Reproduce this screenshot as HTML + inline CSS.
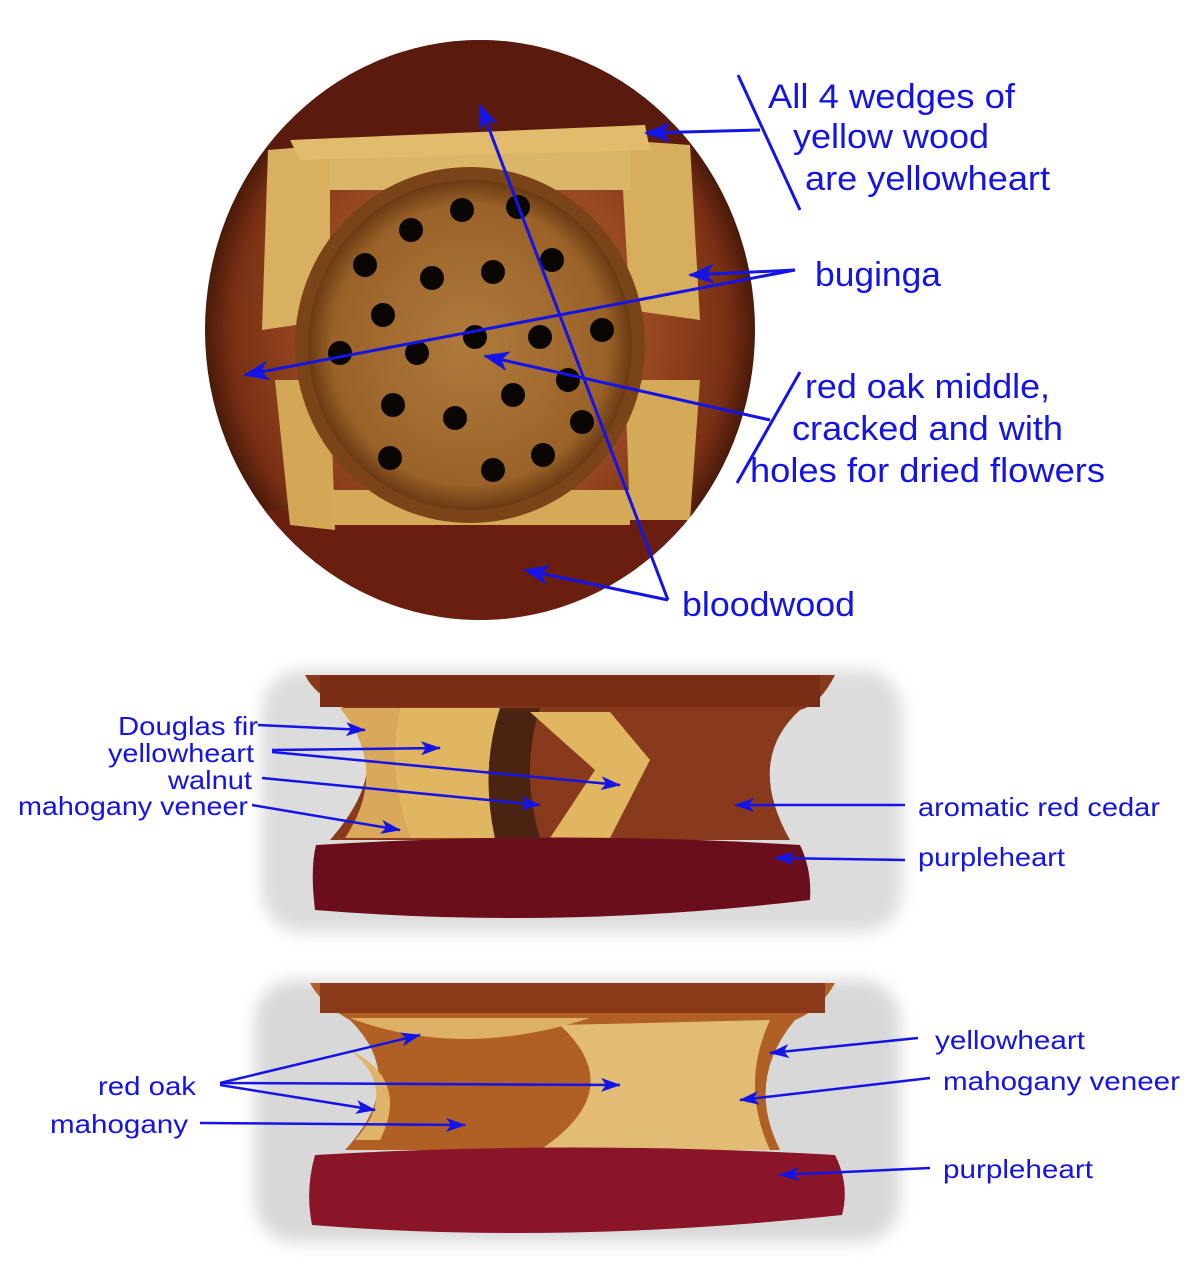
<!DOCTYPE html>
<html><head><meta charset="utf-8"><style>
html,body{margin:0;padding:0;background:#fff;}
svg{display:block;}
text{font-family:"Liberation Sans",Arial,sans-serif;fill:#1414e6;}
</style></head><body>
<svg width="1200" height="1277" viewBox="0 0 1200 1277" xmlns="http://www.w3.org/2000/svg">
<defs>
<radialGradient id="bowl" cx="50%" cy="50%" r="50%">
<stop offset="0.6" stop-color="#9a4a22"/><stop offset="0.9" stop-color="#7a3014"/><stop offset="1" stop-color="#4a1a0a"/>
</radialGradient>
<radialGradient id="oak" cx="50%" cy="50%" r="50%">
<stop offset="0" stop-color="#b07a3c"/><stop offset="0.85" stop-color="#9a6228"/><stop offset="1" stop-color="#6a3a14"/>
</radialGradient>
<clipPath id="bc"><ellipse cx="480" cy="330" rx="275" ry="290"/></clipPath>
<filter id="blur"><feGaussianBlur stdDeviation="8"/></filter>
<marker id="ah" markerWidth="26" markerHeight="20" refX="24" refY="10" orient="auto" markerUnits="userSpaceOnUse" viewBox="0 0 26 20">
<path d="M0,0 L26,10 L0,20 L7,10 z" fill="#1414e6"/></marker>
<marker id="ah2" markerWidth="20" markerHeight="14" refX="19" refY="7" orient="auto" markerUnits="userSpaceOnUse" viewBox="0 0 20 14">
<path d="M0,0 L20,7 L0,14 L5,7 z" fill="#1414e6"/></marker>
</defs>

<!-- BOWL -->
<ellipse cx="480" cy="330" rx="275" ry="290" fill="url(#bowl)"/>
<g clip-path="url(#bc)">
<rect x="200" y="30" width="560" height="120" fill="#5a1a0e"/>
<rect x="200" y="510" width="560" height="120" fill="#6a1e10"/>
<polygon points="268,150 330,145 330,320 262,330" fill="#d8b060"/>
<polygon points="620,140 690,145 700,320 630,310" fill="#d6ae5c"/>
<polygon points="275,380 330,380 335,530 290,525" fill="#d2a856"/>
<polygon points="625,380 700,380 690,520 630,520" fill="#d4aa58"/>
<rect x="330" y="145" width="300" height="45" fill="#dcb668"/>
<rect x="330" y="490" width="300" height="35" fill="#d4aa58"/>
<polygon points="290,140 645,125 650,150 300,160" fill="#e2bc6c"/>
</g>
<ellipse cx="470" cy="345" rx="175" ry="178" fill="#7a4418"/>
<ellipse cx="470" cy="345" rx="162" ry="165" fill="url(#oak)"/>
<g fill="#0a0604">
<circle cx="462" cy="210" r="12"/><circle cx="518" cy="207" r="12"/><circle cx="411" cy="230" r="12"/>
<circle cx="365" cy="265" r="12"/><circle cx="432" cy="278" r="12"/><circle cx="493" cy="272" r="12"/>
<circle cx="552" cy="260" r="12"/><circle cx="383" cy="315" r="12"/><circle cx="340" cy="353" r="12"/>
<circle cx="417" cy="353" r="12"/><circle cx="475" cy="337" r="12"/><circle cx="540" cy="337" r="12"/>
<circle cx="602" cy="330" r="12"/><circle cx="568" cy="380" r="12"/><circle cx="513" cy="395" r="12"/>
<circle cx="393" cy="405" r="12"/><circle cx="455" cy="418" r="12"/><circle cx="582" cy="422" r="12"/>
<circle cx="390" cy="458" r="12"/><circle cx="543" cy="455" r="12"/><circle cx="493" cy="470" r="12"/>
</g>

<!-- MIDDLE PHOTO -->
<rect x="262" y="670" width="640" height="262" rx="40" fill="#dcdcdc" filter="url(#blur)"/>
<path d="M305,675 L835,675 Q820,705 800,710 Q745,760 790,840 L330,840 Q400,760 340,705 Q315,695 305,675 z" fill="#8a3a1c"/>
<rect x="320" y="675" width="500" height="32" fill="#7a2c14"/>
<path d="M340,708 L400,708 Q385,770 410,838 L345,838 Q390,770 340,708 z" fill="#d9a85a"/>
<path d="M400,708 L500,708 Q480,770 495,838 L410,838 Q385,770 400,708 z" fill="#e0b660"/>
<path d="M500,708 L540,708 Q520,770 540,838 L495,838 Q480,770 500,708 z" fill="#4a2410"/>
<path d="M530,712 L610,712 L650,760 L610,838 L550,838 L595,770 z" fill="#e0b660"/>
<path d="M316,845 Q310,870 315,910 Q560,930 810,900 Q812,870 800,845 Q560,830 316,845 z" fill="#6a0e1c"/>

<!-- BOTTOM PHOTO -->
<rect x="255" y="980" width="645" height="262" rx="40" fill="#d8d8d8" filter="url(#blur)"/>
<path d="M310,983 L835,983 Q820,1010 795,1020 Q745,1080 780,1150 L345,1150 Q410,1080 350,1020 Q322,1005 310,983 z" fill="#b06024"/>
<rect x="320" y="983" width="505" height="30" fill="#8a3a18"/>
<path d="M350,1018 Q460,1060 590,1018 L420,1018 z" fill="#dcb066"/>
<path d="M350,1050 Q410,1080 380,1140 L355,1140 Q400,1090 350,1050 z" fill="#deb46a"/>
<path d="M560,1025 L770,1020 Q740,1085 770,1150 L540,1150 Q630,1090 560,1025 z" fill="#e2bc74"/>
<path d="M315,1155 Q305,1190 312,1225 Q560,1245 842,1215 Q850,1185 835,1155 Q570,1140 315,1155 z" fill="#8a1428"/>

<!-- ANNOTATIONS -->
<g stroke="#1414e6" stroke-width="3" fill="none">
<line x1="738" y1="75" x2="800" y2="210"/>
<line x1="800" y1="372" x2="737" y2="483"/>
</g>
<g stroke="#1414e6" stroke-width="3" marker-end="url(#ah)">
<line x1="760" y1="130" x2="646" y2="133"/>
<line x1="795" y1="270" x2="690" y2="275"/>
<line x1="795" y1="270" x2="245" y2="375"/>
<line x1="770" y1="420" x2="485" y2="356"/>
<line x1="668" y1="600" x2="480" y2="105"/>
<line x1="668" y1="600" x2="525" y2="570"/>
</g>
<g stroke="#1414e6" stroke-width="2.5" marker-end="url(#ah2)">
<line x1="258" y1="725" x2="365" y2="730"/>
<line x1="272" y1="750" x2="440" y2="748"/>
<line x1="272" y1="752" x2="620" y2="785"/>
<line x1="262" y1="778" x2="540" y2="805"/>
<line x1="252" y1="805" x2="400" y2="830"/>
<line x1="905" y1="805" x2="735" y2="805"/>
<line x1="905" y1="860" x2="775" y2="858"/>
<line x1="918" y1="1038" x2="770" y2="1053"/>
<line x1="930" y1="1078" x2="740" y2="1100"/>
<line x1="930" y1="1168" x2="780" y2="1175"/>
<line x1="220" y1="1083" x2="420" y2="1035"/>
<line x1="220" y1="1083" x2="620" y2="1085"/>
<line x1="220" y1="1085" x2="375" y2="1110"/>
<line x1="200" y1="1123" x2="465" y2="1125"/>
</g>

<g font-size="34" lengthAdjust="spacingAndGlyphs">
<text x="768" y="108" textLength="247" lengthAdjust="spacingAndGlyphs">All 4 wedges of</text>
<text x="793" y="148" textLength="196" lengthAdjust="spacingAndGlyphs">yellow wood</text>
<text x="805" y="190" textLength="245" lengthAdjust="spacingAndGlyphs">are yellowheart</text>
<text x="815" y="286" textLength="126" lengthAdjust="spacingAndGlyphs">buginga</text>
<text x="805" y="398" textLength="245" lengthAdjust="spacingAndGlyphs">red oak middle,</text>
<text x="792" y="440" textLength="271" lengthAdjust="spacingAndGlyphs">cracked and with</text>
<text x="750" y="482" textLength="355" lengthAdjust="spacingAndGlyphs">holes for dried flowers</text>
<text x="682" y="616" textLength="173" lengthAdjust="spacingAndGlyphs">bloodwood</text>
</g>
<g font-size="26">
<text x="118" y="735" textLength="140" lengthAdjust="spacingAndGlyphs">Douglas fir</text>
<text x="108" y="762" textLength="146" lengthAdjust="spacingAndGlyphs">yellowheart</text>
<text x="168" y="789" textLength="84" lengthAdjust="spacingAndGlyphs">walnut</text>
<text x="18" y="815" textLength="230" lengthAdjust="spacingAndGlyphs">mahogany veneer</text>
<text x="918" y="816" textLength="242" lengthAdjust="spacingAndGlyphs">aromatic red cedar</text>
<text x="918" y="866" textLength="147" lengthAdjust="spacingAndGlyphs">purpleheart</text>
<text x="935" y="1049" textLength="150" lengthAdjust="spacingAndGlyphs">yellowheart</text>
<text x="943" y="1090" textLength="237" lengthAdjust="spacingAndGlyphs">mahogany veneer</text>
<text x="943" y="1178" textLength="150" lengthAdjust="spacingAndGlyphs">purpleheart</text>
<text x="98" y="1095" textLength="98" lengthAdjust="spacingAndGlyphs">red oak</text>
<text x="50" y="1133" textLength="138" lengthAdjust="spacingAndGlyphs">mahogany</text>
</g>
</svg>
</body></html>
